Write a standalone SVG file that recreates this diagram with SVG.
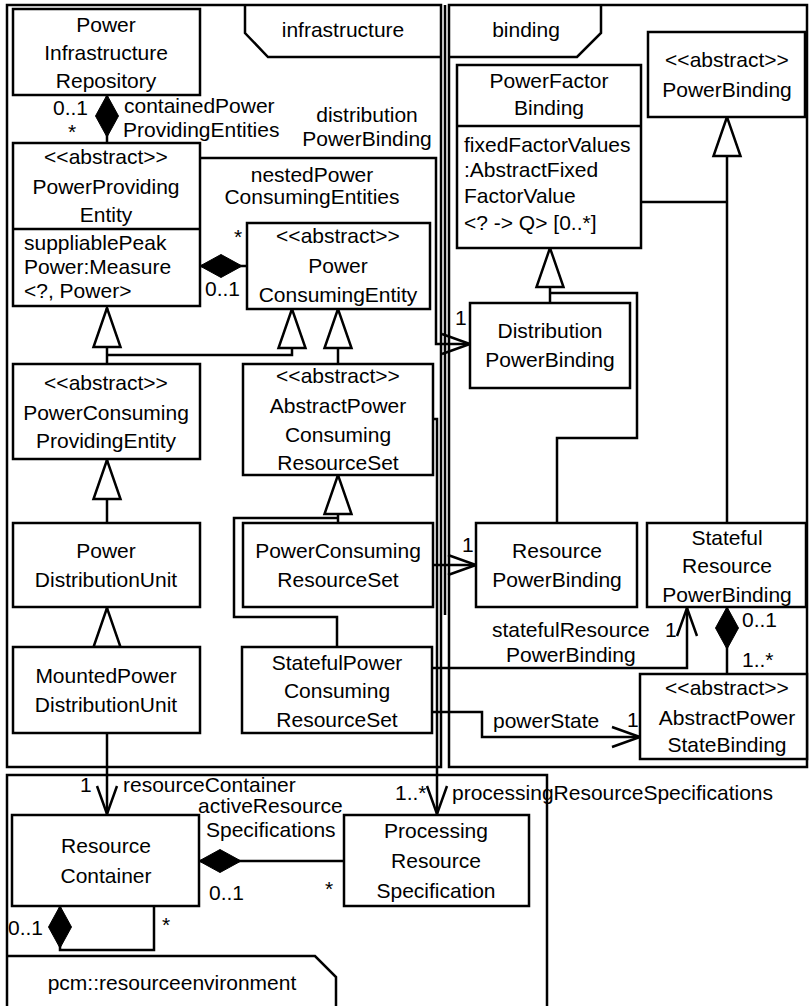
<svg xmlns="http://www.w3.org/2000/svg" width="810" height="1006" viewBox="0 0 810 1006">
  <style>
    text { font-family: "Liberation Sans", Arial, sans-serif; font-size: 21px; fill: #000; }
    .c { text-anchor: middle; }
    .box { fill: #fff; stroke: #000; stroke-width: 2.5; }
    .pkg { fill: none; stroke: #000; stroke-width: 2.5; }
    .ln { fill: none; stroke: #000; stroke-width: 2.5; }
    .assoc { marker-end: url(#open); }
    .gen { marker-end: url(#tri); }
    .comp { marker-start: url(#dia); }
  </style>
  <defs>
    <marker id="open" markerUnits="userSpaceOnUse" markerWidth="40" markerHeight="30" viewBox="-30 -15 40 30" refX="0" refY="0" orient="auto" overflow="visible">
      <path d="M-28,-10 L0,0 L-28,10" fill="none" stroke="#000" stroke-width="2.5"/>
    </marker>
    <marker id="tri" markerUnits="userSpaceOnUse" markerWidth="50" markerHeight="40" viewBox="-45 -20 50 40" refX="0" refY="0" orient="auto" overflow="visible">
      <path d="M0,0 L-39,-13.5 L-39,13.5 Z" fill="#fff" stroke="#000" stroke-width="2.5"/>
    </marker>
    <marker id="dia" markerUnits="userSpaceOnUse" markerWidth="50" markerHeight="30" viewBox="-5 -15 50 30" refX="0" refY="0" orient="auto" overflow="visible">
      <path d="M0,0 L21,-11.5 L42,0 L21,11.5 Z" fill="#000" stroke="#000" stroke-width="1"/>
    </marker>
  </defs>

  <!-- packages -->
  <g id="pkg-infrastructure">
    <rect class="pkg" x="7" y="5" width="434" height="762"/>
    <path class="pkg" d="M245,5 V33 L268,57 H441"/>
    <text class="c" x="343" y="37">infrastructure</text>
  </g>
  <g id="pkg-binding">
    <rect class="pkg" x="449" y="5" width="358" height="762"/>
    <path class="pkg" d="M601,5 V33 L577,57 H449"/>
    <text class="c" x="526" y="37">binding</text>
  </g>
  <g id="pkg-resourceenvironment">
    <path class="pkg" d="M7,1010 V775 H547 V1010"/>
    <path class="pkg" d="M7,956 H315 L336,977 V1010"/>
    <text class="c" x="172" y="990">pcm::resourceenvironment</text>
  </g>

  <!-- connectors -->
  <g id="connectors">
    <path class="ln" d="M445,5 V615"/>
    <!-- compositions -->
    <path class="ln comp" d="M107,95 V143"/>
    <path class="ln comp" d="M200,266 H247"/>
    <path class="ln comp" d="M727,607 V674"/>
    <path class="ln comp" d="M199,861 H344"/>
    <path class="ln comp" d="M60,906 V950 H154 V906"/>
    <!-- directed associations -->
    <path class="ln assoc" d="M200,158 H436 V344 H470"/>
    <path class="ln assoc" d="M433,565 H476"/>
    <path class="ln assoc" d="M432,668 H687 V608"/>
    <path class="ln assoc" d="M432,712 H482 V737 H640"/>
    <path class="ln assoc" d="M433,419 H437 V814"/>
    <path class="ln assoc" d="M107,733 V814"/>
    <!-- generalizations -->
    <path class="ln gen" d="M107,364 V308"/>
    <path class="ln gen" d="M107,355 H292 V309"/>
    <path class="ln gen" d="M338,364 V309"/>
    <path class="ln gen" d="M107,523 V460"/>
    <path class="ln gen" d="M107,647 V608"/>
    <path class="ln gen" d="M338,523 V475"/>
    <path class="ln" d="M337,647 V617 H234 V518 H338"/>
    <path class="ln gen" d="M550,303 V248"/>
    <path class="ln" d="M557,523 V438 H637 V293 H550"/>
    <path class="ln gen" d="M727,523 V117"/>
    <path class="ln" d="M641,202 H727"/>
  </g>

  <!-- association labels -->
  <g id="labels">
    <text x="53" y="115">0..1</text>
    <text x="68" y="139">*</text>
    <text x="124" y="113">containedPower</text>
    <text x="123" y="137">ProvidingEntities</text>
    <text class="c" x="367" y="122">distribution</text>
    <text class="c" x="367" y="146">PowerBinding</text>
    <text class="c" x="312" y="182">nestedPower</text>
    <text class="c" x="312" y="204">ConsumingEntities</text>
    <text x="234" y="244">*</text>
    <text x="205" y="296">0..1</text>
    <text x="455" y="325">1</text>
    <text x="462" y="552">1</text>
    <text x="492" y="637">statefulResource</text>
    <text x="665" y="637">1</text>
    <text x="506" y="662">PowerBinding</text>
    <text x="742" y="627">0..1</text>
    <text x="742" y="667">1..*</text>
    <text x="493" y="728">powerState</text>
    <text x="627" y="727">1</text>
    <text x="80" y="792">1</text>
    <text x="123" y="792">resourceContainer</text>
    <text x="198" y="813">activeResource</text>
    <text x="206" y="837">Specifications</text>
    <text x="395" y="800">1..*</text>
    <text x="452" y="800">processingResourceSpecifications</text>
    <text x="209" y="900">0..1</text>
    <text x="325" y="896">*</text>
    <text x="8" y="935">0..1</text>
    <text x="162" y="932">*</text>
  </g>

  <!-- infrastructure classes -->
  <g id="PowerInfrastructureRepository">
    <rect class="box" x="13" y="9" width="187" height="86"/>
    <text class="c" x="106" y="32">Power</text>
    <text class="c" x="106" y="60">Infrastructure</text>
    <text class="c" x="106" y="88">Repository</text>
  </g>
  <g id="PowerProvidingEntity">
    <rect class="box" x="13" y="143" width="187" height="163"/>
    <line class="ln" x1="13" y1="229" x2="200" y2="229"/>
    <text class="c" x="106" y="164">&lt;&lt;abstract&gt;&gt;</text>
    <text class="c" x="106" y="194">PowerProviding</text>
    <text class="c" x="106" y="222">Entity</text>
    <text x="24" y="250">suppliablePeak</text>
    <text x="24" y="274">Power:Measure</text>
    <text x="24" y="298">&lt;?, Power&gt;</text>
  </g>
  <g id="PowerConsumingEntity">
    <rect class="box" x="247" y="223" width="183" height="86"/>
    <text class="c" x="338" y="243">&lt;&lt;abstract&gt;&gt;</text>
    <text class="c" x="338" y="273">Power</text>
    <text class="c" x="338" y="302">ConsumingEntity</text>
  </g>
  <g id="PowerConsumingProvidingEntity">
    <rect class="box" x="13" y="364" width="187" height="95"/>
    <text class="c" x="106" y="390">&lt;&lt;abstract&gt;&gt;</text>
    <text class="c" x="106" y="420">PowerConsuming</text>
    <text class="c" x="106" y="448">ProvidingEntity</text>
  </g>
  <g id="AbstractPowerConsumingResourceSet">
    <rect class="box" x="243" y="364" width="190" height="111"/>
    <text class="c" x="338" y="383">&lt;&lt;abstract&gt;&gt;</text>
    <text class="c" x="338" y="413">AbstractPower</text>
    <text class="c" x="338" y="442">Consuming</text>
    <text class="c" x="338" y="470">ResourceSet</text>
  </g>
  <g id="PowerDistributionUnit">
    <rect class="box" x="13" y="523" width="187" height="84"/>
    <text class="c" x="106" y="558">Power</text>
    <text class="c" x="106" y="587">DistributionUnit</text>
  </g>
  <g id="PowerConsumingResourceSet">
    <rect class="box" x="243" y="523" width="190" height="84"/>
    <text class="c" x="338" y="558">PowerConsuming</text>
    <text class="c" x="338" y="587">ResourceSet</text>
  </g>
  <g id="MountedPowerDistributionUnit">
    <rect class="box" x="13" y="647" width="187" height="86"/>
    <text class="c" x="106" y="683">MountedPower</text>
    <text class="c" x="106" y="712">DistributionUnit</text>
  </g>
  <g id="StatefulPowerConsumingResourceSet">
    <rect class="box" x="242" y="647" width="190" height="86"/>
    <text class="c" x="337" y="670">StatefulPower</text>
    <text class="c" x="337" y="698">Consuming</text>
    <text class="c" x="337" y="727">ResourceSet</text>
  </g>

  <!-- binding classes -->
  <g id="PowerFactorBinding">
    <rect class="box" x="457" y="65" width="184" height="183"/>
    <line class="ln" x1="457" y1="126" x2="641" y2="126"/>
    <text class="c" x="549" y="88">PowerFactor</text>
    <text class="c" x="549" y="115">Binding</text>
    <text x="464" y="152">fixedFactorValues</text>
    <text x="464" y="177">:AbstractFixed</text>
    <text x="464" y="203">FactorValue</text>
    <text x="464" y="230">&lt;? -&gt; Q&gt; [0..*]</text>
  </g>
  <g id="PowerBinding">
    <rect class="box" x="648" y="32" width="157" height="85"/>
    <text class="c" x="727" y="67">&lt;&lt;abstract&gt;&gt;</text>
    <text class="c" x="727" y="97">PowerBinding</text>
  </g>
  <g id="DistributionPowerBinding">
    <rect class="box" x="470" y="303" width="160" height="85"/>
    <text class="c" x="550" y="338">Distribution</text>
    <text class="c" x="550" y="367">PowerBinding</text>
  </g>
  <g id="ResourcePowerBinding">
    <rect class="box" x="476" y="523" width="161" height="84"/>
    <text class="c" x="557" y="558">Resource</text>
    <text class="c" x="557" y="587">PowerBinding</text>
  </g>
  <g id="StatefulResourcePowerBinding">
    <rect class="box" x="647" y="523" width="159" height="84"/>
    <text class="c" x="727" y="545">Stateful</text>
    <text class="c" x="727" y="573">Resource</text>
    <text class="c" x="727" y="602">PowerBinding</text>
  </g>
  <g id="AbstractPowerStateBinding">
    <rect class="box" x="640" y="674" width="167" height="85"/>
    <text class="c" x="727" y="695">&lt;&lt;abstract&gt;&gt;</text>
    <text class="c" x="727" y="725">AbstractPower</text>
    <text class="c" x="727" y="752">StateBinding</text>
  </g>

  <!-- resource environment classes -->
  <g id="ResourceContainer">
    <rect class="box" x="12" y="815" width="187" height="91"/>
    <text class="c" x="106" y="853">Resource</text>
    <text class="c" x="106" y="883">Container</text>
  </g>
  <g id="ProcessingResourceSpecification">
    <rect class="box" x="344" y="815" width="185" height="91"/>
    <text class="c" x="436" y="838">Processing</text>
    <text class="c" x="436" y="868">Resource</text>
    <text class="c" x="436" y="898">Specification</text>
  </g>
</svg>
